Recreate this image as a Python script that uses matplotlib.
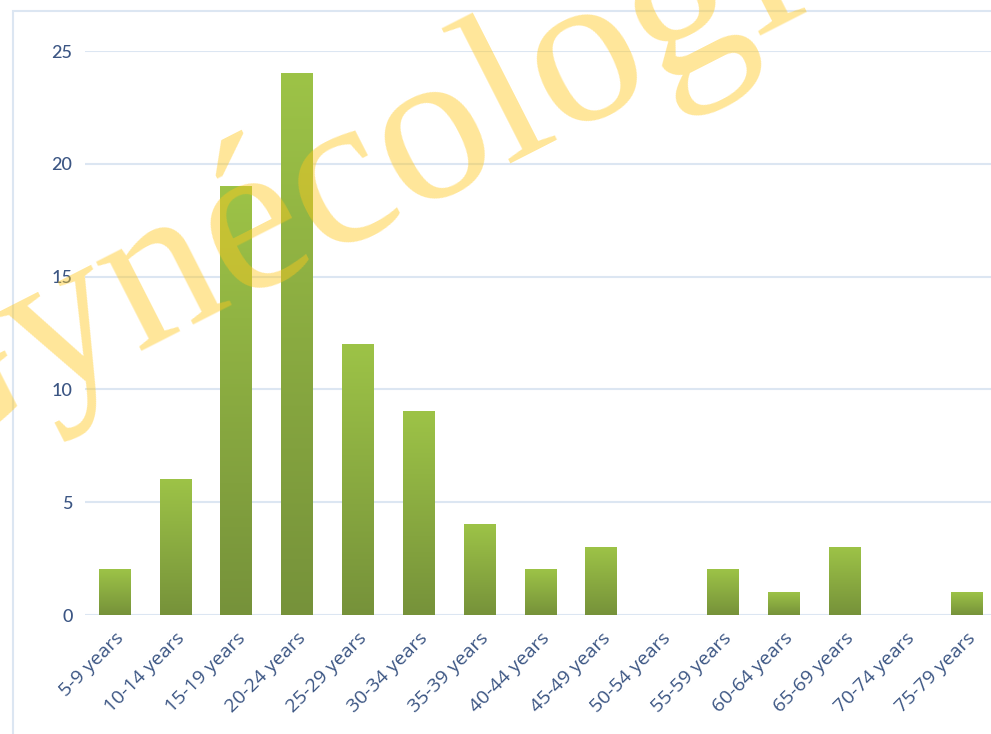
import matplotlib
matplotlib.use('Agg')
import matplotlib.pyplot as plt
import numpy as np
from matplotlib import colors as c
from matplotlib.patches import Rectangle


categories = ['5-9 years', '10-14 years', '15-19 years', '20-24 years', '25-29 years',
              '30-34 years', '35-39 years', '40-44 years', '45-49 years', '50-54 years',
              '55-59 years', '60-64 years', '65-69 years', '70-74 years', '75-79 years']
counts = [2, 6, 19, 24, 12, 9, 4, 2, 3, 0, 2, 1, 3, 0, 1]
y_ticks = [0, 5, 10, 15, 20, 25]

c_grad = c.LinearSegmentedColormap.from_list('bar_grad', ['#76923a', '#9dc347'])
c_grid = '#dce6f2'
c_text = '#3b5583'

###################
fig = plt.figure(figsize=(9.91, 7.34), dpi=100)
ax = fig.add_axes((85 / 991, 1 - 615 / 734, 1 - 85 / 991, (615 - 51) / 734))

# card frame
fig.patches.append(Rectangle((13 / 991, -0.1), 1.2, 1 - 11 / 734 + 0.1,
                             transform=fig.transFigure, fill=False,
                             edgecolor=c_grid, linewidth=1.5, zorder=0))

x = np.arange(len(categories))
bars = ax.bar(x, counts, width=0.51, color='none', edgecolor='none', zorder=2)

grad = np.linspace(0, 1, 256).reshape(-1, 1)
for b, v in zip(bars, counts):
    if v == 0:
        continue
    x0 = b.get_x()
    ax.imshow(grad, extent=(x0, x0 + b.get_width(), 0, v), origin='lower',
              aspect='auto', cmap=c_grad, zorder=2, interpolation='bilinear')

ax.set_xlim(-0.48, 14.41)
ax.set_ylim(0, 25)
ax.set_yticks(y_ticks)
ax.set_yticklabels([str(t) for t in y_ticks], fontfamily='Lato', fontsize=13,
                   fontweight='medium', color=c_text)
ax.set_xticks(x)
ax.set_xticklabels(categories, rotation=45, ha='right', rotation_mode='anchor',
                   fontfamily='Open Sans', fontsize=14, color=c_text)
ax.tick_params(axis='both', length=0)
ax.tick_params(axis='y', pad=9)
ax.tick_params(axis='x', pad=10)

ax.grid(axis='y', color=c_grid, linewidth=1.5, zorder=0)
ax.set_axisbelow(True)
for s in ax.spines.values():
    s.set_visible(False)

# watermark
fig.text(-103 / 991, 1 - 471 / 734, 'Gynécologie', fontfamily='Liberation Serif',
         fontsize=158, color='#ffc81e', alpha=0.45, rotation=27,
         rotation_mode='anchor', ha='left', va='baseline', zorder=10)

plt.savefig('out.png', dpi=100)
plt.close(fig)
